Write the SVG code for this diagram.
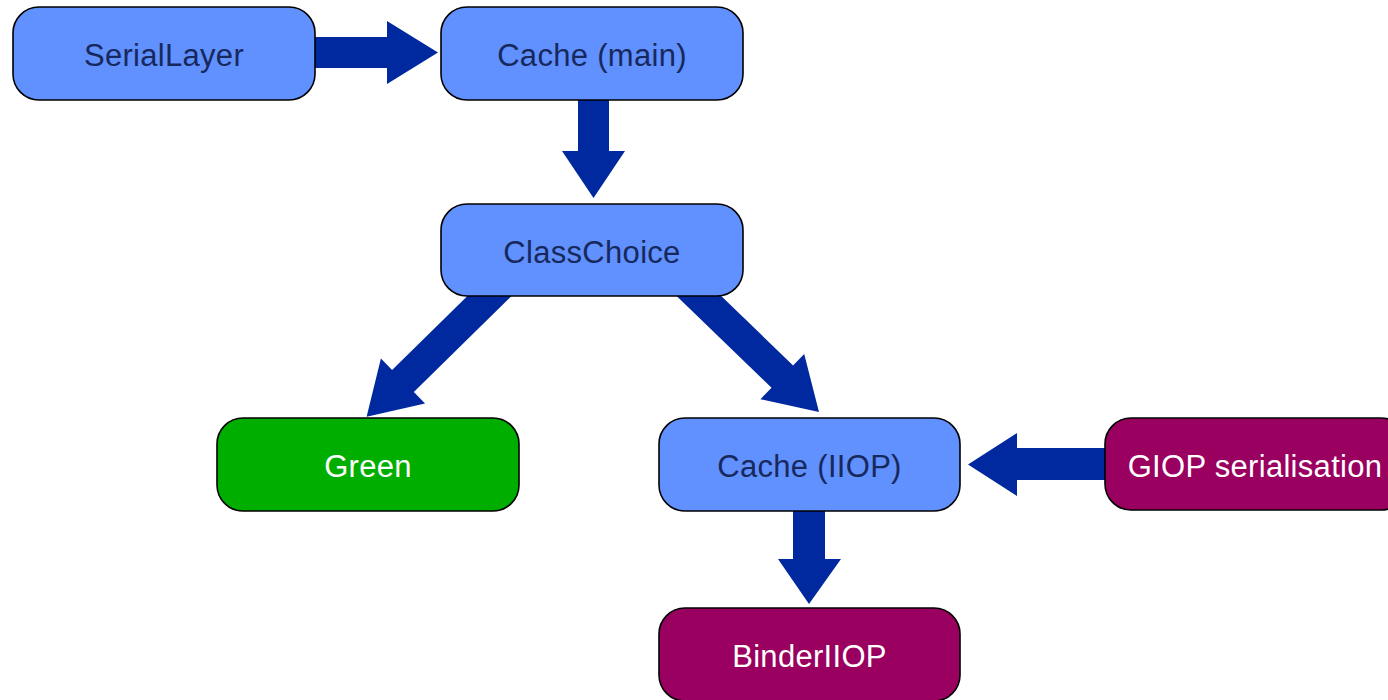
<svg xmlns="http://www.w3.org/2000/svg" width="1388" height="700" viewBox="0 0 1388 700">
<style>
.box{stroke:#000;stroke-width:1.6}
.blue{fill:#6190ff}
.green{fill:#00ae00}
.purple{fill:#990060}
.lbl{font-family:"Liberation Sans",Arial,sans-serif;font-size:31px;text-anchor:middle;letter-spacing:0.3px}
.dark{fill:#17295c}
.light{fill:#fff}
.arr{fill:#0029a0;stroke:none}
</style>
<rect width="1388" height="700" fill="#fff"/>
<g id="connectors">
<polygon class="arr" points="300,37 387,37 387,21 438,52.5 387,84 387,68 300,68"/>
<polygon class="arr" points="578,95 609,95 609,151 625,151 593.5,198 562,151 578,151"/>
<polygon class="arr" transform="translate(366.6,416.8) rotate(135.5)" points="-188,-15.5 -51,-15.5 -51,-31.5 0,0 -51,31.5 -51,15.5 -188,15.5"/>
<polygon class="arr" transform="translate(819,412) rotate(44)" points="-183,-15.5 -51,-15.5 -51,-31.5 0,0 -51,31.5 -51,15.5 -183,15.5"/>
<polygon class="arr" points="1110,448 1017,448 1017,433 968,464.5 1017,496 1017,480 1110,480"/>
<polygon class="arr" points="793,505 825,505 825,559 841,559 809,604 778,559 793,559"/>
</g>
<g id="serial-layer">
<rect class="box blue" x="13" y="7" width="302" height="93" rx="26"/>
<text class="lbl dark" x="164" y="66">SerialLayer</text>
</g>
<g id="cache-main">
<rect class="box blue" x="441" y="7" width="302" height="93" rx="26"/>
<text class="lbl dark" x="592" y="66">Cache (main)</text>
</g>
<g id="class-choice">
<rect class="box blue" x="441" y="204" width="302" height="92" rx="26"/>
<text class="lbl dark" x="592" y="262.5">ClassChoice</text>
</g>
<g id="green">
<rect class="box green" x="217" y="418" width="302" height="93" rx="26"/>
<text class="lbl light" x="368" y="477">Green</text>
</g>
<g id="cache-iiop">
<rect class="box blue" x="659" y="418" width="301" height="93" rx="26"/>
<text class="lbl dark" x="809.5" y="477">Cache (IIOP)</text>
</g>
<g id="giop-serialisation">
<rect class="box purple" x="1105" y="418" width="302" height="92" rx="26"/>
<text class="lbl light" x="1255" y="476.5">GIOP serialisation</text>
</g>
<g id="binder-iiop">
<rect class="box purple" x="659" y="608" width="301" height="93" rx="26"/>
<text class="lbl light" x="809.5" y="667">BinderIIOP</text>
</g>
</svg>
